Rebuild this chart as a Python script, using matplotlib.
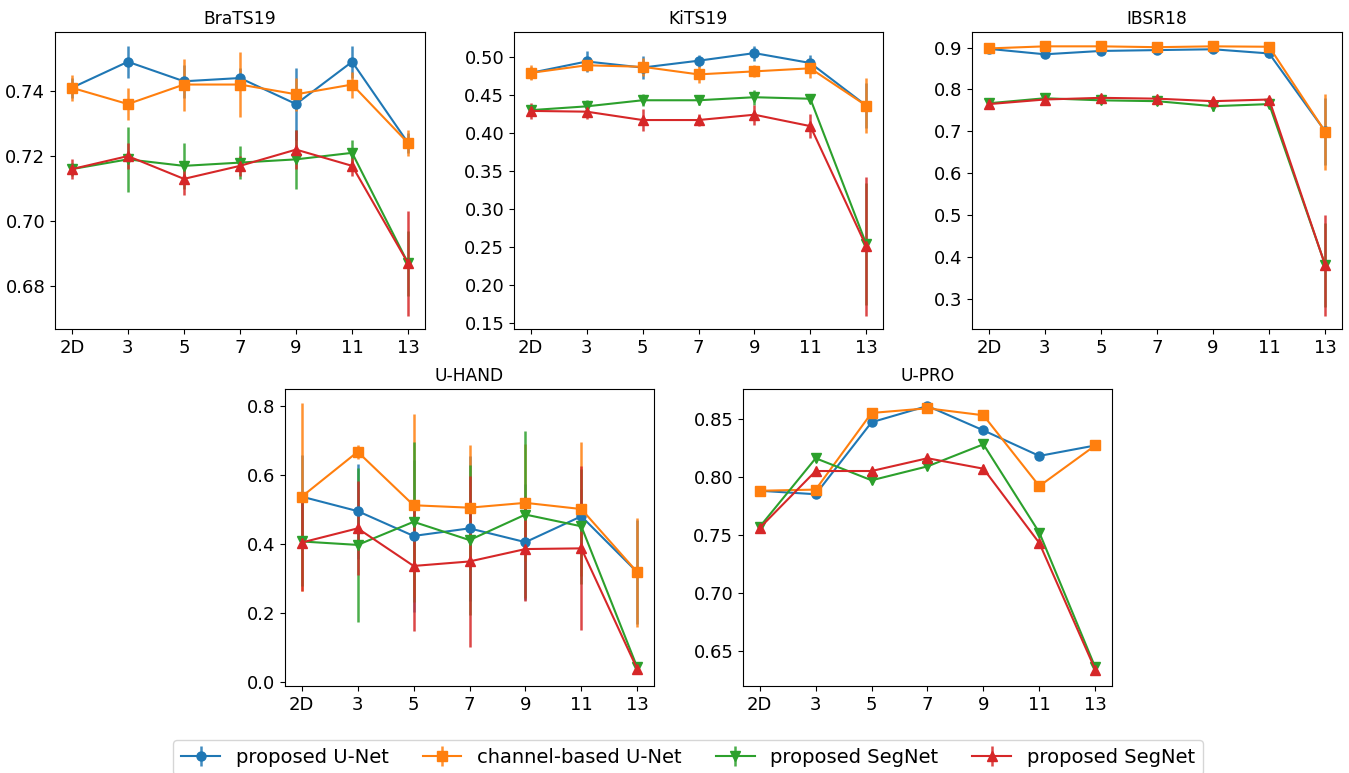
import matplotlib
matplotlib.use("Agg")
import matplotlib.pyplot as plt
import numpy as np

x_labels = ["2D", "3", "5", "7", "9", "11", "13"]
series_names = ["proposed U-Net", "channel-based U-Net", "proposed SegNet", "proposed SegNet"]
colors = ["#1f77b4", "#ff7f0e", "#2ca02c", "#d62728"]
markers = ["o", "s", "v", "^"]

# BraTS19
brats_unet = [0.741, 0.749, 0.743, 0.744, 0.736, 0.749, 0.724]
brats_unet_err = [0.003, 0.005, 0.005, 0.003, 0.011, 0.005, 0.003]
brats_chan = [0.741, 0.736, 0.742, 0.742, 0.739, 0.742, 0.724]
brats_chan_err = [0.004, 0.005, 0.008, 0.010, 0.005, 0.004, 0.004]
brats_seg1 = [0.716, 0.719, 0.717, 0.718, 0.719, 0.721, 0.687]
brats_seg1_err = [0.002, 0.010, 0.007, 0.005, 0.009, 0.004, 0.010]
brats_seg2 = [0.716, 0.720, 0.713, 0.717, 0.722, 0.717, 0.687]
brats_seg2_err = [0.003, 0.004, 0.005, 0.003, 0.006, 0.003, 0.016]

# KiTS19
kits_unet = [0.479, 0.494, 0.486, 0.495, 0.505, 0.492, 0.436]
kits_unet_err = [0.008, 0.014, 0.015, 0.008, 0.010, 0.010, 0.030]
kits_chan = [0.479, 0.489, 0.487, 0.477, 0.481, 0.485, 0.436]
kits_chan_err = [0.010, 0.008, 0.012, 0.011, 0.008, 0.013, 0.036]
kits_seg1 = [0.430, 0.435, 0.443, 0.443, 0.447, 0.445, 0.254]
kits_seg1_err = [0.006, 0.008, 0.008, 0.006, 0.010, 0.005, 0.080]
kits_seg2 = [0.429, 0.428, 0.417, 0.417, 0.424, 0.409, 0.251]
kits_seg2_err = [0.010, 0.010, 0.015, 0.008, 0.013, 0.016, 0.091]

# IBSR18
ibsr_unet = [0.897, 0.884, 0.892, 0.894, 0.896, 0.886, 0.700]
ibsr_unet_err = [0.004, 0.008, 0.006, 0.005, 0.005, 0.010, 0.080]
ibsr_chan = [0.898, 0.903, 0.903, 0.901, 0.903, 0.902, 0.699]
ibsr_chan_err = [0.002, 0.002, 0.002, 0.002, 0.002, 0.002, 0.091]
ibsr_seg1 = [0.767, 0.779, 0.774, 0.772, 0.760, 0.765, 0.381]
ibsr_seg1_err = [0.005, 0.006, 0.006, 0.008, 0.012, 0.010, 0.100]
ibsr_seg2 = [0.765, 0.776, 0.780, 0.778, 0.772, 0.776, 0.380]
ibsr_seg2_err = [0.004, 0.005, 0.006, 0.005, 0.006, 0.005, 0.120]

# U-HAND
hand_unet = [0.537, 0.495, 0.423, 0.445, 0.405, 0.480, 0.318]
hand_unet_err = [0.120, 0.138, 0.220, 0.210, 0.168, 0.080, 0.150]
hand_chan = [0.537, 0.667, 0.512, 0.505, 0.519, 0.501, 0.318]
hand_chan_err = [0.273, 0.020, 0.265, 0.181, 0.170, 0.195, 0.158]
hand_seg1 = [0.407, 0.397, 0.464, 0.411, 0.485, 0.451, 0.042]
hand_seg1_err = [0.130, 0.224, 0.232, 0.217, 0.241, 0.167, 0.010]
hand_seg2 = [0.404, 0.445, 0.336, 0.349, 0.385, 0.387, 0.037]
hand_seg2_err = [0.140, 0.136, 0.190, 0.249, 0.150, 0.238, 0.010]

# U-PRO
pro_unet = [0.788, 0.785, 0.847, 0.861, 0.840, 0.818, 0.827]
pro_unet_err = [0.002, 0.002, 0.002, 0.003, 0.002, 0.002, 0.002]
pro_chan = [0.788, 0.789, 0.855, 0.859, 0.853, 0.792, 0.827]
pro_chan_err = [0.003, 0.003, 0.002, 0.003, 0.003, 0.003, 0.002]
pro_seg1 = [0.757, 0.816, 0.797, 0.809, 0.828, 0.752, 0.636]
pro_seg1_err = [0.003, 0.003, 0.003, 0.003, 0.003, 0.003, 0.002]
pro_seg2 = [0.756, 0.805, 0.805, 0.816, 0.807, 0.743, 0.634]
pro_seg2_err = [0.003, 0.003, 0.003, 0.003, 0.003, 0.003, 0.0025]

panels = [
    ("BraTS19", [brats_unet, brats_chan, brats_seg1, brats_seg2],
     [brats_unet_err, brats_chan_err, brats_seg1_err, brats_seg2_err]),
    ("KiTS19", [kits_unet, kits_chan, kits_seg1, kits_seg2],
     [kits_unet_err, kits_chan_err, kits_seg1_err, kits_seg2_err]),
    ("IBSR18", [ibsr_unet, ibsr_chan, ibsr_seg1, ibsr_seg2],
     [ibsr_unet_err, ibsr_chan_err, ibsr_seg1_err, ibsr_seg2_err]),
    ("U-HAND", [hand_unet, hand_chan, hand_seg1, hand_seg2],
     [hand_unet_err, hand_chan_err, hand_seg1_err, hand_seg2_err]),
    ("U-PRO", [pro_unet, pro_chan, pro_seg1, pro_seg2],
     [pro_unet_err, pro_chan_err, pro_seg1_err, pro_seg2_err]),
]

W, H = 1349, 773
fig = plt.figure(figsize=(W / 100, H / 100), dpi=100)

# axes boxes in pixels: left, top, width, height
boxes = [(55, 32, 370, 297), (514, 32, 369, 297), (972, 32, 370, 297),
         (285, 389, 369, 297), (743, 389, 369, 297)]

xs = np.arange(len(x_labels))
handles = []
for (title, vals, errs), (l, t, w, h) in zip(panels, boxes):
    ax = fig.add_axes([l / W, 1 - (t + h) / H, w / W, h / H])
    hs = []
    for i in range(4):
        c = ax.errorbar(xs, vals[i], yerr=errs[i], color=colors[i], marker=markers[i],
                        markersize=6.5, linewidth=1.5, elinewidth=1.8, capsize=0,
                        label=series_names[i])
        c[2][0].set_alpha(0.85)
        hs.append(c)
    handles = hs
    ax.set_xticks(xs)
    ax.set_xticklabels(x_labels)
    ax.tick_params(labelsize=13)
    ax.set_title(title, fontsize=12.3)

fig.legend(handles, series_names, loc="upper center", ncol=4,
           bbox_to_anchor=(688 / W, 1 - 730.5 / H), fontsize=14,
           columnspacing=1.75, handlelength=2.0)

fig.savefig("out.png", dpi=100)
